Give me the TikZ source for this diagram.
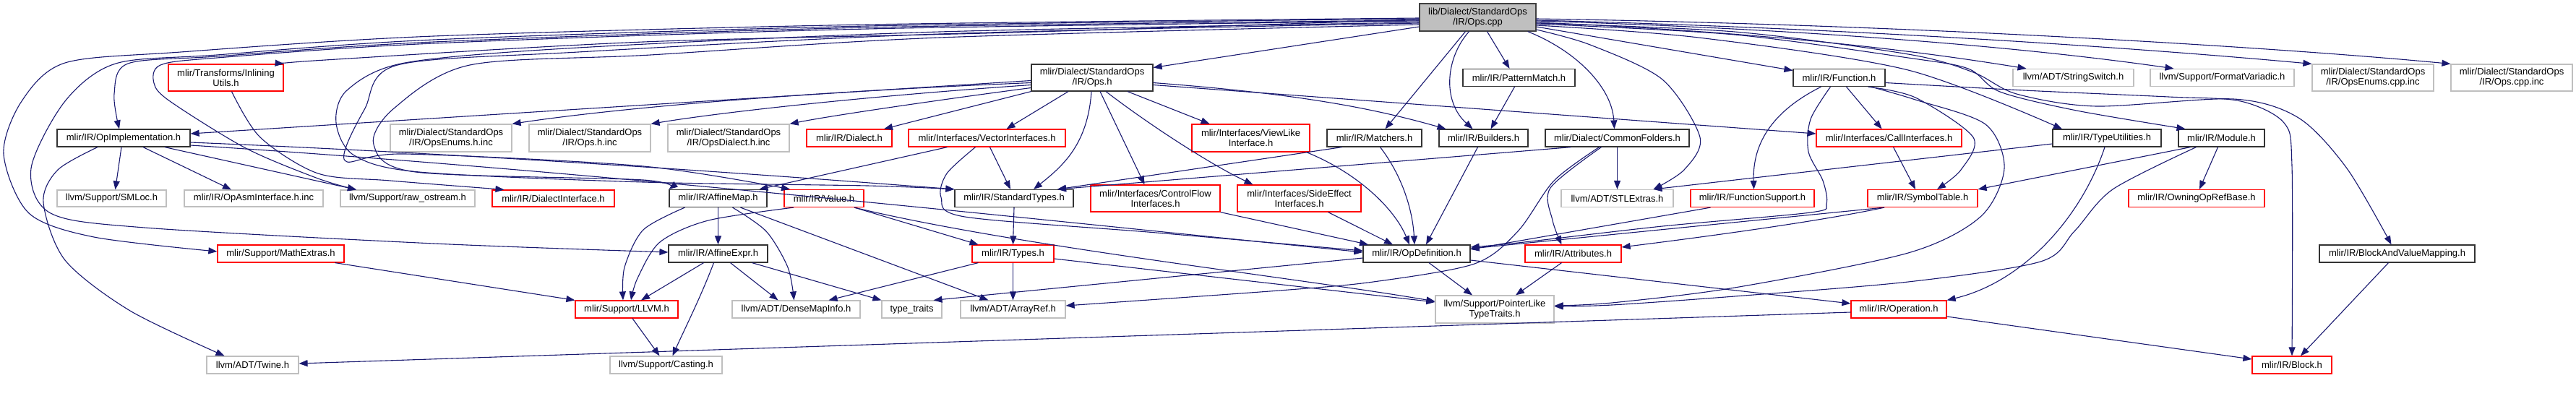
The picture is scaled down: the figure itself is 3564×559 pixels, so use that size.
\documentclass[tikz,border=0pt]{standalone}
\usepackage{fontspec}
\setmainfont{Liberation Sans}
\usetikzlibrary{arrows.meta}
\definecolor{edgeblue}{HTML}{191970}
\definecolor{boxgray}{HTML}{BFBFBF}
\definecolor{boxred}{HTML}{FF0000}
\begin{document}
\begin{tikzpicture}[x=1pt,y=-1pt,font=\fontsize{13}{14}\selectfont,
  nb/.style={draw,line width=1.2pt,inner sep=0pt,align=center,anchor=center},
  blk/.style={nb,draw=black!80},
  gry/.style={nb,draw=boxgray},
  rd/.style={nb,draw=boxred},
  e/.style={draw=edgeblue,line width=1.1pt,-{Triangle[length=12pt,width=9pt]}}]
\useasboundingbox (0,0) rectangle (3564,559);
% ---- nodes ----
\node[nb,draw=black!75,fill=boxgray,minimum width=161pt,minimum height=38pt] (root) at (2044.5,24) {lib/Dialect/StandardOps\\/IR/Ops.cpp};
\node[rd,minimum width=159pt,minimum height=37pt] (inl) at (312.5,107.5) {mlir/Transforms/Inlining\\Utils.h};
\node[blk,minimum width=184pt,minimum height=24pt] (opimpl) at (171,191) {mlir/IR/OpImplementation.h};
\node[gry,minimum width=151pt,minimum height=23pt] (smloc) at (154.5,274.5) {llvm/Support/SMLoc.h};
\node[gry,minimum width=192pt,minimum height=23pt] (opasm) at (351,274.5) {mlir/IR/OpAsmInterface.h.inc};
\node[rd,minimum width=175pt,minimum height=24pt] (math) at (388.5,351) {mlir/Support/MathExtras.h};
\node[gry,minimum width=127pt,minimum height=24pt] (twine) at (349.5,505) {llvm/ADT/Twine.h};
\node[gry,minimum width=168pt,minimum height=38pt] (enumsh) at (624,191) {mlir/Dialect/StandardOps\\/IR/OpsEnums.h.inc};
\node[gry,minimum width=168pt,minimum height=38pt] (opshinc) at (816,191) {mlir/Dialect/StandardOps\\/IR/Ops.h.inc};
\node[gry,minimum width=186pt,minimum height=23pt] (raw) at (564,274.5) {llvm/Support/raw\_ostream.h};
\node[rd,minimum width=169pt,minimum height=23pt] (dint) at (765.5,274.5) {mlir/IR/DialectInterface.h};
\node[rd,minimum width=142pt,minimum height=24pt] (llvmh) at (867,428) {mlir/Support/LLVM.h};
\node[gry,minimum width=155pt,minimum height=24pt] (casting) at (921.5,505) {llvm/Support/Casting.h};
\node[gry,minimum width=168pt,minimum height=38pt] (dialh) at (1008,191) {mlir/Dialect/StandardOps\\/IR/OpsDialect.h.inc};
\node[rd,minimum width=118pt,minimum height=24pt] (dialect) at (1175,191) {mlir/IR/Dialect.h};
\node[rd,minimum width=217pt,minimum height=24pt] (vec) at (1365.5,191) {mlir/Interfaces/VectorInterfaces.h};
\node[blk,minimum width=135pt,minimum height=24pt] (amap) at (993.5,274.5) {mlir/IR/AffineMap.h};
\node[rd,minimum width=110pt,minimum height=24pt] (value) at (1140,274.5) {mlir/IR/Value.h};
\node[blk,minimum width=137pt,minimum height=24pt] (aexpr) at (993.5,351) {mlir/IR/AffineExpr.h};
\node[gry,minimum width=177pt,minimum height=24pt] (dense) at (1101.5,428) {llvm/ADT/DenseMapInfo.h};
\node[gry,minimum width=83pt,minimum height=24pt] (tt) at (1261.5,428) {type\_traits};
\node[blk,minimum width=168pt,minimum height=37pt] (opsh) at (1511,107.5) {mlir/Dialect/StandardOps\\/IR/Ops.h};
\node[blk,minimum width=164pt,minimum height=24pt] (stdt) at (1403,274.5) {mlir/IR/StandardTypes.h};
\node[rd,minimum width=179pt,minimum height=37pt] (cf) at (1598.5,274.5) {mlir/Interfaces/ControlFlow\\Interfaces.h};
\node[rd,minimum width=163pt,minimum height=38pt] (view) at (1730.5,191) {mlir/Interfaces/ViewLike\\Interface.h};
\node[rd,minimum width=171pt,minimum height=37pt] (side) at (1797.5,274.5) {mlir/Interfaces/SideEffect\\Interfaces.h};
\node[rd,minimum width=113pt,minimum height=24pt] (types) at (1401.5,351) {mlir/IR/Types.h};
\node[gry,minimum width=145pt,minimum height=24pt] (aref) at (1401.5,428) {llvm/ADT/ArrayRef.h};
\node[blk,minimum width=155pt,minimum height=24pt] (pm) at (2101.5,107.5) {mlir/IR/PatternMatch.h};
\node[blk,minimum width=131pt,minimum height=24pt] (match) at (1901.5,191) {mlir/IR/Matchers.h};
\node[blk,minimum width=123pt,minimum height=24pt] (build) at (2052.5,191) {mlir/IR/Builders.h};
\node[blk,minimum width=199pt,minimum height=24pt] (cfold) at (2237.5,191) {mlir/Dialect/CommonFolders.h};
\node[blk,minimum width=148pt,minimum height=24pt] (opdef) at (1960,351) {mlir/IR/OpDefinition.h};
\node[rd,minimum width=133pt,minimum height=24pt] (attr) at (2176.5,351) {mlir/IR/Attributes.h};
\node[gry,minimum width=164pt,minimum height=38pt] (ptr) at (2068,428) {llvm/Support/PointerLike\\TypeTraits.h};
\node[gry,minimum width=155pt,minimum height=24pt] (stl) at (2237.5,274.5) {llvm/ADT/STLExtras.h};
\node[blk,minimum width=127pt,minimum height=24pt] (func) at (2544.5,107.5) {mlir/IR/Function.h};
\node[rd,minimum width=201pt,minimum height=24pt] (call) at (2613.5,191) {mlir/Interfaces/CallInterfaces.h};
\node[rd,minimum width=171pt,minimum height=24pt] (fsup) at (2424.5,274.5) {mlir/IR/FunctionSupport.h};
\node[rd,minimum width=152pt,minimum height=24pt] (sym) at (2660,274.5) {mlir/IR/SymbolTable.h};
\node[rd,minimum width=132pt,minimum height=24pt] (oper) at (2627,428) {mlir/IR/Operation.h};
\node[gry,minimum width=167pt,minimum height=24pt] (sswitch) at (2868.5,107.5) {llvm/ADT/StringSwitch.h};
\node[gry,minimum width=199pt,minimum height=24pt] (fvar) at (3074.5,107.5) {llvm/Support/FormatVariadic.h};
\node[blk,minimum width=150pt,minimum height=24pt] (tutil) at (2915,191) {mlir/IR/TypeUtilities.h};
\node[blk,minimum width=119pt,minimum height=24pt] (module) at (3073.5,191) {mlir/IR/Module.h};
\node[rd,minimum width=188pt,minimum height=24pt] (owning) at (3039,274.5) {mlir/IR/OwningOpRefBase.h};
\node[gry,minimum width=168pt,minimum height=37pt] (enumscpp) at (3283,107.5) {mlir/Dialect/StandardOps\\/IR/OpsEnums.cpp.inc};
\node[gry,minimum width=168pt,minimum height=37pt] (opscpp) at (3475,107.5) {mlir/Dialect/StandardOps\\/IR/Ops.cpp.inc};
\node[blk,minimum width=215pt,minimum height=24pt] (bvm) at (3316.5,351) {mlir/IR/BlockAndValueMapping.h};
\node[rd,minimum width=110pt,minimum height=24pt] (block) at (3171,505) {mlir/IR/Block.h};
% ---- root edges, left side ----
\draw[e] ([yshift=-13pt]root.west) -- ([yshift=14pt]opsh.east);
\draw[e] plot[smooth] coordinates {([yshift=-3pt]root.west) (1400,45) (890,58) (450,83) (inl.north east)};
\draw[e] plot[smooth] coordinates {([yshift=-1pt]root.west) (1200,34) (600,50) (250,72) (90,87) (30,140) (5,213) (40,295) (130,328) ([yshift=3pt]math.west)};
\draw[e] plot[smooth] coordinates {([yshift=-2pt]root.west) (1200,36) (600,55) (300,76) (160,88) (90,140) (43,233) (70,295) (200,315) (600,337) ([yshift=2pt]aexpr.west)};
\draw[e] plot[smooth] coordinates {([yshift=-4pt]root.west) (1200,38) (600,58) (300,78) (177,88) (158,130) ([xshift=-6pt]opimpl.north)};
\draw[e] plot[smooth] coordinates {([yshift=-5pt]root.west) (1200,40) (600,60) (300,80) (222,90) (213,115) (235,140) (340,205) (440,247) ([xshift=-71pt]raw.north)};
\draw[e] plot[smooth] coordinates {([yshift=-7pt]root.west) (1300,44) (800,66) (560,87) (480,125) (465,170) (490,215) (580,238) (890,252) (1200,257) (stdt.north west)};
\draw[e] plot[smooth] coordinates {([yshift=-8pt]root.west) (1300,47) (800,72) (550,90) (505,150) (477,222) (560,213) (890,230) ([xshift=-47pt]value.north)};
\draw[e] plot[smooth] coordinates {([yshift=-10pt]root.west) (1300,52) (900,76) (650,90) (545,150) (517,200) (575,238) (890,249) (amap.north west)};
% ---- root edges, bottom / right ----
\draw[e] ([xshift=13pt]root.south) -- ([xshift=-13pt]pm.north);
\draw[e] ([xshift=-12pt]root.south) .. controls (2000,80) and (1995,140) .. ([xshift=-15pt]build.north);
\draw[e] ([xshift=-17pt]root.south) -- ([xshift=15pt]match.north);
\draw[e] ([xshift=-12pt]root.south east) .. controls (2180,70) and (2230,120) .. ([xshift=-4pt]cfold.north);
\draw[e] plot[smooth] coordinates {([yshift=-17pt]root.east) (2200,62) (2300,110) (2352,190) (2330,235) ([xshift=50pt]stl.north)};
\draw[e] ([yshift=-13pt]root.east) -- ([yshift=10pt]func.west);
\draw[e] plot[smooth] coordinates {([yshift=-11pt]root.east) (2350,52) (2640,97) ([xshift=-62pt]tutil.north)};
\draw[e] plot[smooth] coordinates {([yshift=-9pt]root.east) (2400,48) (2640,80) (2723,95) (2767,127) (2873,153) ([xshift=-50pt]module.north)};
\draw[e] plot[smooth] coordinates {([yshift=-8pt]root.east) (2400,44) (2640,75) (2730,100) (2790,130) (2900,147) (3090,137) (3180,163) (3247,233) ([xshift=-8pt]bvm.north)};
\draw[e] ([yshift=-7pt]root.east) .. controls (2450,45) and (2650,70) .. ([xshift=-65pt]sswitch.north);
\draw[e] ([yshift=-5pt]root.east) .. controls (2500,40) and (2800,65) .. ([xshift=-67pt]fvar.north);
\draw[e] ([yshift=-4pt]root.east) .. controls (2600,40) and (3000,70) .. (enumscpp.north west);
\draw[e] ([yshift=-2pt]root.east) .. controls (2700,35) and (3200,70) .. (opscpp.north west);
% ---- Ops.h ----
\draw[e] ([yshift=-4pt]opsh.west) -- ([yshift=6pt]opimpl.east);
\draw[e] ([yshift=-7pt]opsh.west) .. controls (1100,128) and (850,150) .. (enumsh.north east);
\draw[e] ([yshift=-10pt]opsh.west) .. controls (1200,133) and (1000,155) .. (opshinc.north east);
\draw[e] ([yshift=-14pt]opsh.west) .. controls (1300,138) and (1150,160) .. (dialh.north east);
\draw[e] (opsh.south west) -- ([xshift=48pt]dialect.north);
\draw[e] ([xshift=-33pt]opsh.south) -- ([xshift=27pt]vec.north);
\draw[e] ([xshift=-1pt]opsh.south) .. controls (1505,200) and (1470,230) .. ([xshift=27pt]stdt.north);
\draw[e] ([xshift=11pt]opsh.south) -- ([xshift=-15pt]cf.north);
\draw[e] ([xshift=19pt]opsh.south) .. controls (1600,180) and (1680,230) .. ([xshift=-64pt]side.north);
\draw[e] ([xshift=49pt]opsh.south) -- ([xshift=-57pt]view.north);
\draw[e] ([yshift=-7pt]opsh.east) .. controls (1800,130) and (1900,150) .. ([xshift=-52pt]build.north);
\draw[e] ([yshift=-10pt]opsh.east) -- ([yshift=6pt]call.west);
% ---- OpImplementation ----
\draw[e] plot[smooth] coordinates {([xshift=-36pt]opimpl.south) (80,235) (60,280) (90,360) (180,430) ([xshift=-39pt]twine.north)};
\draw[e] ([xshift=-3pt]opimpl.south) -- ([xshift=5pt]smloc.north);
\draw[e] ([xshift=27pt]opimpl.south) -- ([xshift=-31pt]opasm.north);
\draw[e] ([xshift=57pt]opimpl.south) -- ([xshift=-71pt]raw.north);
\draw[e] ([yshift=-6pt]opimpl.east) .. controls (700,215) and (1100,245) .. (stdt.north west);
\draw[e] ([yshift=-10pt]opimpl.east) .. controls (800,235) and (1400,300) .. ([yshift=2pt]opdef.west);
% ---- InliningUtils ----
\draw[e] plot[smooth] coordinates {([xshift=8pt]inl.south) (360,190) (440,240) (540,250) ([xshift=-68pt]dint.north)};
% ---- VectorInterfaces ----
\draw[e] ([xshift=-55pt]vec.south) -- ([xshift=57pt]amap.north);
\draw[e] ([xshift=4pt]vec.south) -- ([xshift=-5pt]stdt.north);
\draw[e] plot[smooth] coordinates {([xshift=-16pt]vec.south) (1310,240) (1302,273) (1335,300) (1600,322) ([yshift=4pt]opdef.west)};
% ---- AffineMap ----
\draw[e] (amap.south) -- (aexpr.north);
\draw[e] plot[smooth] coordinates {([xshift=-46pt]amap.south) (890,318) (864,370) ([xshift=-5pt]llvmh.north)};
\draw[e] plot[smooth] coordinates {([xshift=20pt]amap.south) (1060,320) (1090,370) ([xshift=-3pt]dense.north)};
\draw[e] ([xshift=31pt]amap.south) -- ([xshift=-34pt]aref.north);
% ---- Value ----
\draw[e] plot[smooth] coordinates {([xshift=-42pt]value.south) (980,305) (913,335) (882,385) ([xshift=6pt]llvmh.north)};
\draw[e] ([xshift=42pt]value.south) -- ([xshift=-48pt]types.north);
\draw[e] ([xshift=42pt]value.south) .. controls (1400,340) and (1800,385) .. ([yshift=11pt]ptr.west);
% ---- AffineExpr ----
\draw[e] ([xshift=-20pt]aexpr.south) -- ([xshift=20pt]llvmh.north);
\draw[e] ([xshift=-6pt]aexpr.south) .. controls (970,410) and (945,460) .. ([xshift=9pt]casting.north);
\draw[e] ([xshift=17pt]aexpr.south) -- ([xshift=-25pt]dense.north);
\draw[e] ([xshift=47pt]aexpr.south) -- (tt.north west);
% ---- LLVM / MathExtras ----
\draw[e] ([xshift=8pt]llvmh.south) -- ([xshift=-9pt]casting.north);
\draw[e] ([xshift=75pt]math.south) -- (llvmh.north west);
% ---- StandardTypes / Types ----
\draw[e] (stdt.south) -- (types.north);
\draw[e] (types.south) -- (aref.north);
\draw[e] ([xshift=-48pt]types.south) -- ([xshift=45pt]dense.north);
\draw[e] ([yshift=-7pt]types.east) -- ([yshift=10pt]ptr.west);
% ---- Matchers / Builders / PatternMatch ----
\draw[e] ([xshift=8pt]match.south) .. controls (1945,250) and (1955,300) .. ([xshift=-3pt]opdef.north);
\draw[e] ([xshift=-45pt]match.south) -- ([xshift=60pt]stdt.north);
\draw[e] ([xshift=-8pt]build.south) -- ([xshift=13pt]opdef.north);
\draw[e] ([xshift=-6pt]pm.south) -- ([xshift=10pt]build.north);
% ---- CommonFolders ----
\draw[e] (cfold.south) -- (stl.north);
\draw[e] plot[smooth] coordinates {([xshift=-22pt]cfold.south) (2145,260) (2148,305) ([xshift=-16pt]attr.north)};
\draw[e] plot[smooth] coordinates {([xshift=-25pt]cfold.south) (2150,250) (2100,320) (2040,365) (1900,390) (1770,402) ([yshift=5pt]aref.east)};
\draw[e] ([xshift=-64pt]cfold.south) -- ([xshift=60pt]stdt.north);
% ---- interfaces -> OpDefinition ----
\draw[e] ([xshift=77pt]view.south) .. controls (1880,240) and (1930,290) .. ([xshift=-10pt]opdef.north);
\draw[e] ([xshift=40pt]side.south) -- ([xshift=-33pt]opdef.north);
\draw[e] (cf.south east) -- ([xshift=-67pt]opdef.north);
% ---- OpDefinition / Attributes ----
\draw[e] ([xshift=17pt]opdef.south) -- ([xshift=-31pt]ptr.north);
\draw[e] ([yshift=-9pt]opdef.east) -- ([yshift=8pt]oper.west);
\draw[e] ([yshift=-6pt]opdef.west) -- ([xshift=30pt]tt.north);
\draw[e] ([xshift=-16pt]attr.south) -- ([xshift=29pt]ptr.north);
% ---- Function ----
\draw[e] ([xshift=-25pt]func.south) .. controls (2440,160) and (2425,210) .. ([xshift=2pt]fsup.north);
\draw[e] plot[smooth] coordinates {([xshift=-12pt]func.south) (2505,165) (2502,210) (2522,250) (2527,282) (2505,294) (2300,313) (2100,336) ([yshift=9pt]opdef.east)};
\draw[e] ([xshift=10pt]func.south) -- ([xshift=-10pt]call.north);
\draw[e] plot[smooth] coordinates {([xshift=40pt]func.south) (2650,135) (2730,190) (2713,235) ([xshift=20pt]sym.north)};
\draw[e] plot[smooth] coordinates {([xshift=44pt]func.south) (2650,138) (2747,172) (2773,233) (2740,300) (2640,350) (2400,398) (2230,419) ([yshift=5pt]ptr.east)};
\draw[e] plot[smooth] coordinates {([yshift=-7pt]func.east) (2800,125) (3000,134) (3100,140) (3160,170) (3171,230) (block.north)};
% ---- CallInterfaces / FunctionSupport / SymbolTable ----
\draw[e] ([xshift=6pt]call.south) -- ([xshift=-10pt]sym.north);
\draw[e] ([xshift=-58pt]fsup.south) -- ([yshift=6pt]opdef.east);
\draw[e] ([xshift=-53pt]sym.south) -- ([yshift=7pt]opdef.east);
\draw[e] ([xshift=-53pt]sym.south) .. controls (2500,310) and (2300,335) .. ([yshift=9pt]attr.east);
% ---- TypeUtilities / Module ----
\draw[e] ([yshift=-8pt]tutil.west) -- ([xshift=50pt]stl.north);
\draw[e] ([xshift=-3pt]tutil.south) .. controls (2880,300) and (2800,390) .. (oper.north east);
\draw[e] ([xshift=-43pt]module.south) -- (sym.north east);
\draw[e] ([xshift=-5pt]module.south) -- ([xshift=4pt]owning.north);
\draw[e] plot[smooth] coordinates {([xshift=-35pt]module.south) (2923,262) (2870,320) (2823,362) (2640,390) (2400,410) (2230,422) ([yshift=4pt]ptr.east)};
% ---- Operation / BlockAndValueMapping ----
\draw[e] ([yshift=-10pt]oper.east) -- ([yshift=8pt]block.west);
\draw[e] ([yshift=-4pt]oper.west) -- ([yshift=2pt]twine.east);
\draw[e] ([xshift=-12pt]bvm.south) -- ([xshift=12pt]block.north);
\end{tikzpicture}
\end{document}
